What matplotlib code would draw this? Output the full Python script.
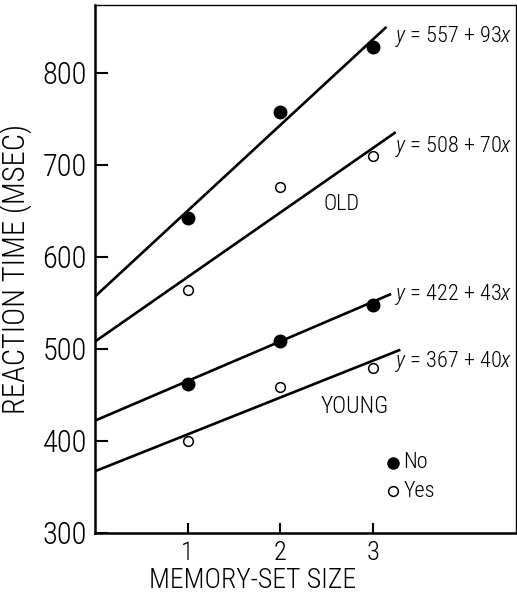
import numpy as np
import matplotlib
matplotlib.use("Agg")
import matplotlib.pyplot as plt

plt.rcParams['font.family'] = ['Roboto Condensed', 'DejaVu Sans']
plt.rcParams['font.weight'] = 'light'
plt.rcParams['axes.labelweight'] = 'light'
plt.rcParams['mathtext.fontset'] = 'custom'
plt.rcParams['mathtext.rm'] = 'Roboto Condensed:light'
plt.rcParams['mathtext.it'] = 'Roboto Condensed:italic:light'

# data
set_size = [1, 2, 3]
old_no = [642, 757, 828]
old_yes = [564, 676, 710]
young_no = [462, 509, 548]
young_yes = [400, 459, 479]

# fitted lines: intercept, slope, and where the drawn line stops
fit_intercept = [557, 508, 422, 367]
fit_slope = [93, 70, 43, 40]
fit_end = [3.15, 3.25, 3.2, 3.3]
fit_label_y = [839, 720, 559, 486]

fig = plt.figure(figsize=(5.17, 5.94), dpi=100)
ax = fig.add_axes([0.184, 0.103, 0.814, 0.889])

for a, b, xe in zip(fit_intercept, fit_slope, fit_end):
    xs = np.array([0, xe])
    ax.plot(xs, a + b * xs, color='black', lw=1.9, solid_capstyle='butt')

for vals in (old_no, young_no):
    ax.plot(set_size, vals, 'o', color='black', ms=9, zorder=3)
for vals in (old_yes, young_yes):
    ax.plot(set_size, vals, 'o', mfc='white', mec='black', mew=1.1, ms=7, zorder=3)

for a, b, ly in zip(fit_intercept, fit_slope, fit_label_y):
    ax.text(3.24, ly, r"$y$" + f" = {a} + {b}" + r"$x$", fontsize=16,
            ha='left', va='center')

ax.text(2.66, 657, "OLD", fontsize=16, ha='center', va='center')
ax.text(2.81, 437, "YOUNG", fontsize=17, ha='center', va='center')

ax.plot([3.22], [376], 'o', color='black', ms=8)
ax.text(3.33, 376, "No", fontsize=16, ha='left', va='center')
ax.plot([3.22], [345], 'o', mfc='white', mec='black', mew=1.1, ms=7)
ax.text(3.33, 345, "Yes", fontsize=16, ha='left', va='center')

ax.set_xlim(0, 4.55)
ax.set_ylim(300, 874)
ax.set_xticks([1, 2, 3])
ax.set_yticks([300, 400, 500, 600, 700, 800])
ax.tick_params(axis='y', direction='in', length=9, width=1.5, labelsize=22, pad=6)
ax.tick_params(axis='x', direction='in', length=7, width=1.5, labelsize=19, pad=6)
ax.set_xlabel("MEMORY-SET SIZE", fontsize=20)
ax.set_ylabel("REACTION TIME (MSEC)", fontsize=22)
ax.xaxis.set_label_coords(0.373, -0.064)
ax.yaxis.set_label_coords(-0.15, 0.5)

ax.spines['left'].set_linewidth(1.8)
ax.spines['bottom'].set_linewidth(1.8)
ax.spines['top'].set_linewidth(1.0)
ax.spines['right'].set_linewidth(1.0)

fig.savefig("out.png", dpi=100)
